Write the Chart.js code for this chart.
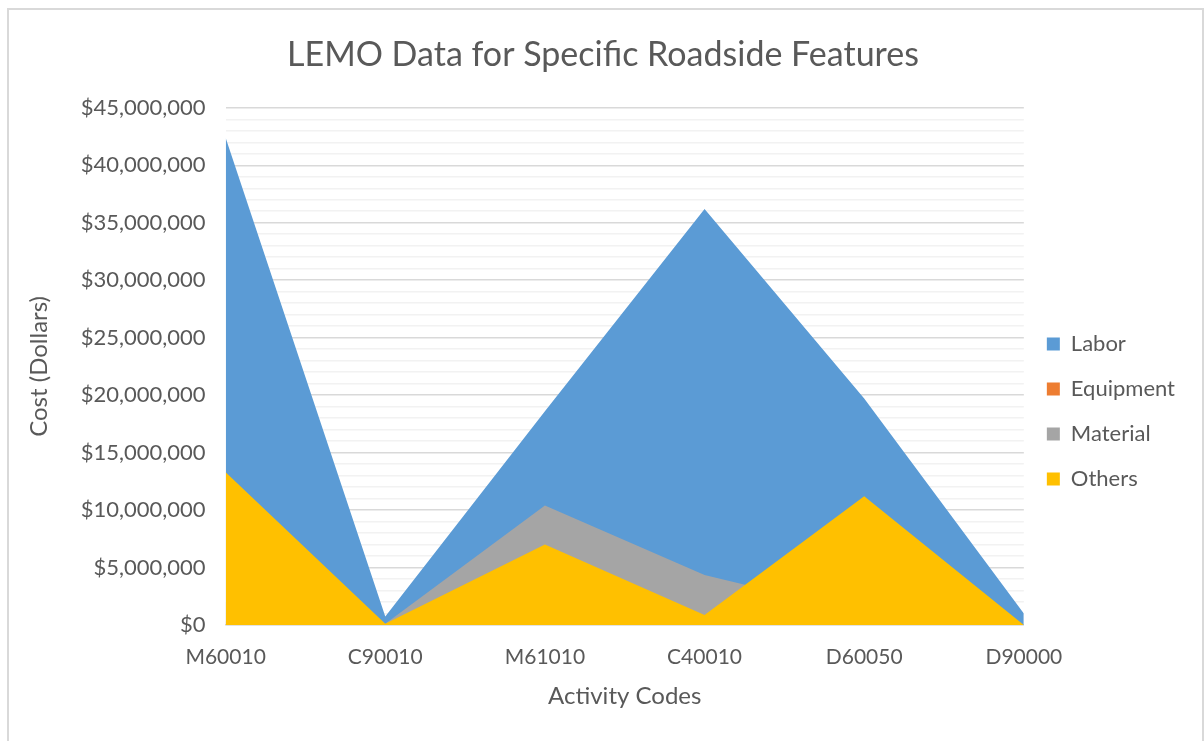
<!DOCTYPE html>
<html>
<head>
<meta charset="utf-8">
<script src="https://cdn.jsdelivr.net/npm/chart.js@4/dist/chart.umd.min.js"></script>
<style>
  html, body { margin: 0; padding: 0; background: #fff; overflow: hidden; }
  #wrap { position: absolute; left: 0; top: 0; width: 1204px; height: 741px; }
  #frame {
    position: absolute; left: 7px; top: 8px; right: 0; height: 800px;
    border: 2px solid #d9d9d9; border-bottom: none; pointer-events: none;
  }
</style>
</head>
<body>
<div id="wrap"><canvas id="chart"></canvas></div>
<div id="frame"></div>
<script>
// activity codes on the x axis
const activityCodes = ['M60010', 'C90010', 'M61010', 'C40010', 'D60050', 'D90000'];

// cost in dollars
const labor     = [42400000,  750000, 18600000, 36200000, 19700000, 1000000];
const equipment = [  300000,   50000,   200000,   300000,   200000,       0];
const material  = [ 2000000,  100000, 10400000,  4340000,  1000000,       0];
const others    = [13300000,  100000,  7000000,   870000, 11200000,       0];

const yTicksMajor = [0, 5000000, 10000000, 15000000, 20000000, 25000000, 30000000, 35000000, 40000000, 45000000];

const textColor = '#595959';
const fontFamily = 'Lato, "Open Sans", sans-serif';

const makeSet = (label, data, color, order) => ({
  label: label,
  data: data,
  backgroundColor: color,
  borderColor: color,
  borderWidth: 0,
  pointRadius: 0,
  fill: 'origin',
  tension: 0,
  order: order,
});

new Chart(document.getElementById('chart'), {
  type: 'line',
  data: {
    labels: activityCodes,
    datasets: [
      makeSet('Labor', labor, '#5B9BD5', 4),
      makeSet('Equipment', equipment, '#ED7D31', 3),
      makeSet('Material', material, '#A5A5A5', 2),
      makeSet('Others', others, '#FFC000', 1),
    ],
  },
  options: {
    responsive: true,
    maintainAspectRatio: false,
    animation: false,
    layout: { padding: { left: 21, right: 19, top: 20, bottom: 22 } },
    plugins: {
      tooltip: { enabled: false },
      title: {
        display: true,
        text: 'LEMO Data for Specific Roadside Features',
        color: textColor,
        font: { family: fontFamily, size: 34, weight: 'normal' },
        padding: { top: 15, bottom: 32 },
      },
      legend: {
        position: 'right',
        // empty legend title only pushes the items down
        title: { display: true, text: '', padding: { top: 74, bottom: 0 }, font: { size: 10, lineHeight: 1 } },
        labels: {
          boxWidth: 13,
          boxHeight: 13,
          padding: 23,
          color: textColor,
          font: { family: fontFamily, size: 22, lineHeight: 1 },
          sort: (a, b) => a.datasetIndex - b.datasetIndex,
        },
      },
    },
    scales: {
      x: {
        offset: false,
        grid: { display: false, drawTicks: false },
        border: { color: '#d9d9d9', width: 1.5 },
        ticks: { color: textColor, padding: 20, font: { family: fontFamily, size: 21 }, maxRotation: 0 },
        title: { display: true, text: 'Activity Codes', color: textColor, font: { family: fontFamily, size: 24 }, padding: { top: -8, bottom: 8 } },
      },
      y: {
        min: 0,
        max: 45000000,
        grid: {
          drawTicks: false,
          color: (ctx) => (yTicksMajor.includes(ctx.tick.value) ? '#d9d9d9' : '#f2f2f2'),
          lineWidth: 1.5,
        },
        border: { display: false },
        ticks: {
          stepSize: 1000000,
          autoSkip: false,
          padding: 20,
          color: textColor,
          font: { family: fontFamily, size: 22 },
          callback: (v) => (yTicksMajor.includes(v) ? '$' + v.toLocaleString('en-US') : ''),
        },
        title: { display: true, text: 'Cost (Dollars)', color: textColor, font: { family: fontFamily, size: 24 }, padding: { bottom: 7 } },
      },
    },
  },
});
</script>
</body>
</html>
